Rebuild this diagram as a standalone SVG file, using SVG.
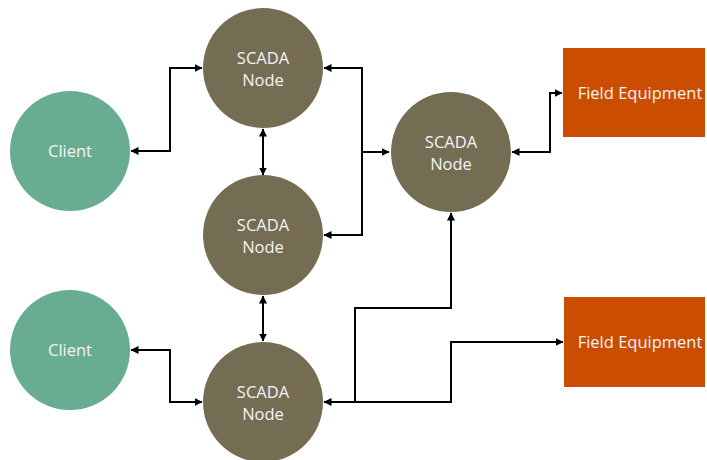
<svg xmlns="http://www.w3.org/2000/svg" width="707" height="460" viewBox="0 0 707 460">
  <defs>
    <style>
      .client { fill: #68AD91; }
      .scada { fill: #756D53; }
      .field { fill: #CA4D02; }
      .label { font-family: "Open Sans", "Noto Sans", "Liberation Sans", sans-serif; font-size: 16.5px; fill: #F4F4F4; text-anchor: middle; }
      .wire { fill: none; stroke: #000; stroke-width: 2; }
    </style>
    <marker id="arrow" markerUnits="userSpaceOnUse" markerWidth="10" markerHeight="10" refX="7.5" refY="4" orient="auto-start-reverse">
      <path d="M0,0 L8,4 L0,8 z" fill="#000"/>
    </marker>
  </defs>

  <rect width="707" height="460" fill="#FFFFFF"/>

  <!-- connectors -->
  <g id="connectors">
    <!-- client (top) to SCADA node (top) -->
    <path class="wire" d="M131,151 H170 V68 H202" marker-start="url(#arrow)" marker-end="url(#arrow)"/>
    <!-- SCADA top to SCADA middle -->
    <path class="wire" d="M263,129 V175" marker-start="url(#arrow)" marker-end="url(#arrow)"/>
    <!-- SCADA middle to SCADA bottom -->
    <path class="wire" d="M263,296 V341" marker-start="url(#arrow)" marker-end="url(#arrow)"/>
    <!-- client (bottom) to SCADA node (bottom) -->
    <path class="wire" d="M131,350 H170 V402 H202" marker-start="url(#arrow)" marker-end="url(#arrow)"/>
    <!-- bus joining SCADA top, SCADA middle and SCADA right -->
    <path class="wire" d="M324,68 H362 V235 H324" marker-start="url(#arrow)" marker-end="url(#arrow)"/>
    <path class="wire" d="M362,152 H389" marker-end="url(#arrow)"/>
    <!-- SCADA right to field equipment (top) -->
    <path class="wire" d="M512,152 H550 V93 H562" marker-start="url(#arrow)" marker-end="url(#arrow)"/>
    <!-- SCADA bottom to SCADA right -->
    <path class="wire" d="M324,402 H355 V308 H451 V213" marker-start="url(#arrow)" marker-end="url(#arrow)"/>
    <!-- SCADA bottom to field equipment (bottom) -->
    <path class="wire" d="M355,402 H451 V342 H563" marker-end="url(#arrow)"/>
  </g>

  <!-- nodes -->
  <g id="client-top">
    <circle class="client" cx="70" cy="151" r="60"/>
    <text class="label" x="70" y="157">Client</text>
  </g>
  <g id="client-bottom">
    <circle class="client" cx="70" cy="350" r="60"/>
    <text class="label" x="70" y="356">Client</text>
  </g>
  <g id="scada-top">
    <circle class="scada" cx="263" cy="68" r="60"/>
    <text class="label" x="263" y="63.5">SCADA</text>
    <text class="label" x="263" y="86">Node</text>
  </g>
  <g id="scada-middle">
    <circle class="scada" cx="263" cy="235" r="60"/>
    <text class="label" x="263" y="230.5">SCADA</text>
    <text class="label" x="263" y="253">Node</text>
  </g>
  <g id="scada-bottom">
    <circle class="scada" cx="263" cy="402" r="60"/>
    <text class="label" x="263" y="397.5">SCADA</text>
    <text class="label" x="263" y="420">Node</text>
  </g>
  <g id="scada-right">
    <circle class="scada" cx="451" cy="152" r="60"/>
    <text class="label" x="451" y="147.5">SCADA</text>
    <text class="label" x="451" y="170">Node</text>
  </g>
  <g id="field-top">
    <rect class="field" x="563" y="48" width="142" height="89"/>
    <text class="label" x="640" y="98.5">Field Equipment</text>
  </g>
  <g id="field-bottom">
    <rect class="field" x="564" y="297" width="141" height="90"/>
    <text class="label" x="640" y="348">Field Equipment</text>
  </g>
</svg>
